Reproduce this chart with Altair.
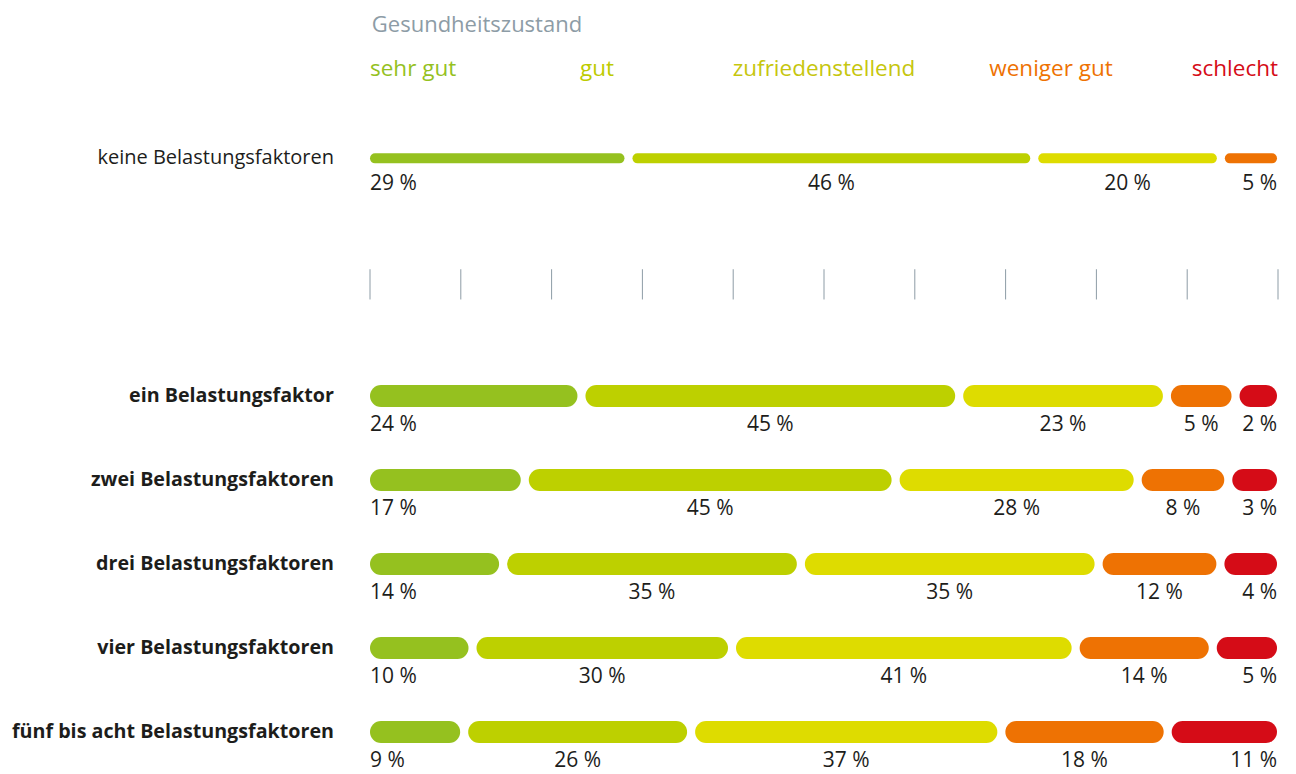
import altair as alt
import pandas as pd

# ---- data ----
categories = ["sehr gut", "gut", "zufriedenstellend", "weniger gut", "schlecht"]
bar_colors = ["#95C11F", "#BDD000", "#DEDC00", "#EE7203", "#D50C17"]
legend_colors = ["#95C11F", "#BDCB00", "#C6C60E", "#EE7203", "#D50C17"]
groups = [
    "keine Belastungsfaktoren",
    "ein Belastungsfaktor",
    "zwei Belastungsfaktoren",
    "drei Belastungsfaktoren",
    "vier Belastungsfaktoren",
    "fünf bis acht Belastungsfaktoren",
]
sehr_gut = [29, 24, 17, 14, 10, 9]
gut = [46, 45, 45, 35, 30, 26]
zufriedenstellend = [20, 23, 28, 35, 41, 37]
weniger_gut = [5, 5, 8, 12, 14, 18]
schlecht = [0, 2, 3, 4, 5, 11]
tick_values = list(range(0, 101, 10))
title_text = "Gesundheitszustand"
legend_pos = [0, 25, 50, 75, 100]

# ---- layout ----
FONT = "Open Sans"
PLOT_W = 908
SPAN = 907
GAP = 8
row_y = [1.79, 4.62, 5.62, 6.62, 7.62, 8.62]
thick = [10, 22, 22, 22, 22, 22]
px2u = 100.0 / PLOT_W

series = [sehr_gut, gut, zufriedenstellend, weniger_gut, schlecht]
seg_rows, lab_rows = [], []
for gi, g in enumerate(groups):
    vals = [(ci, series[ci][gi]) for ci in range(5) if series[ci][gi] > 0]
    n = len(vals)
    t = thick[gi]
    total = sum(v for _, v in vals)
    W = SPAN - n * t - (n - 1) * GAP
    cum = 0
    for k, (ci, v) in enumerate(vals):
        vs = k * (t + GAP) + cum / total * W
        ve = vs + v / total * W + t
        cum += v
        seg_rows.append({
            "group": g, "cat": categories[ci], "value": v,
            "x": (vs + t / 2) * px2u, "x2": (ve - t / 2) * px2u,
            "y": row_y[gi], "t": t, "color": bar_colors[ci],
        })
        if k == 0:
            ax, al = vs, "left"
        elif k == n - 1:
            ax, al = ve, "right"
        else:
            ax, al = (vs + ve) / 2, "center"
        lab_rows.append({
            "group": g, "text": f"{v} %", "x": ax * px2u, "y": row_y[gi],
            "al": al, "dy": 26 if t < 15 else 29,
        })

segs = pd.DataFrame(seg_rows)
labs = pd.DataFrame(lab_rows)
rowlab = pd.DataFrame({"group": groups, "y": row_y,
                       "bold": [False] + [True] * 5})
legend_df = pd.DataFrame({"cat": categories, "x": legend_pos,
                          "color": legend_colors,
                          "al": ["left", "center", "center", "center", "right"],
                          "y": [0.73] * 5})
ticks_df = pd.DataFrame({"x": tick_values, "y": [3.11] * 11, "y2": [3.47] * 11})
title_df = pd.DataFrame({"text": [title_text], "x": [0.2], "y": [0.20]})

xs = alt.Scale(domain=[0, 100], range=[0, PLOT_W])
ys = alt.Scale(domain=[0, 9], range=[0, 756])
X = lambda f="x": alt.X(f"{f}:Q", scale=xs, axis=None)
Y = lambda f="y": alt.Y(f"{f}:Q", scale=ys, axis=None)

bars = alt.Chart(segs).mark_rule(strokeCap="round").encode(
    x=X(), x2="x2:Q", y=Y(),
    color=alt.Color("color:N", scale=None),
    strokeWidth=alt.StrokeWidth("t:Q", scale=None),
)

layers = [bars]
for al in ["left", "center", "right"]:
    for dyv in [26, 29]:
        sub = labs[(labs["al"] == al) & (labs["dy"] == dyv)]
        if len(sub):
            layers.append(alt.Chart(sub).mark_text(
                align=al, baseline="middle", dy=dyv, font=FONT, fontSize=21,
                color="#1d1d1b").encode(x=X(), y=Y(), text="text:N"))
    sub = legend_df[legend_df["al"] == al]
    layers.append(alt.Chart(sub).mark_text(
        align=al, baseline="middle", font=FONT, fontSize=22.5).encode(
        x=X(), y=Y(), text="cat:N", color=alt.Color("color:N", scale=None)))

for b in [False, True]:
    sub = rowlab[rowlab["bold"] == b]
    layers.append(alt.Chart(sub).mark_text(
        align="right", baseline="middle", dx=-36, font=FONT,
        fontSize=19.7 if b else 20,
        fontWeight="bold" if b else "normal", color="#1d1d1b").encode(
        x=alt.value(0), y=Y(), text="group:N"))

layers.append(alt.Chart(ticks_df).mark_rule(color="#8D9CA6", strokeWidth=1).encode(
    x=X(), y=Y(), y2="y2:Q"))
layers.append(alt.Chart(title_df).mark_text(
    align="left", baseline="middle", font=FONT, fontSize=22, color="#8D9CA6").encode(
    x=X(), y=Y(), text="text:N"))

chart = alt.layer(*layers).properties(
    width=PLOT_W, height=756,
    autosize=alt.AutoSizeParams(type="none"),
    padding={"left": 362, "top": 0, "right": 10, "bottom": 10},
).configure_view(stroke=None)

chart.save("out.html", embed_options={"renderer": "svg", "actions": False})
